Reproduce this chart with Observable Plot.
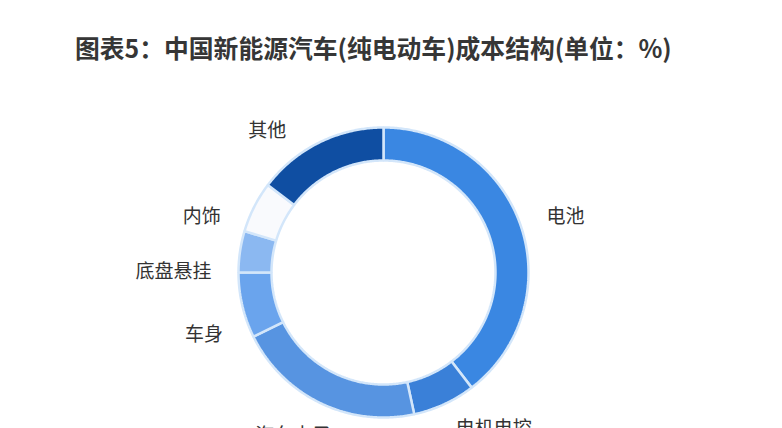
<!DOCTYPE html>
<html>
<head>
<meta charset="utf-8">
<script src="https://cdn.jsdelivr.net/npm/d3@7"></script>
<script src="https://cdn.jsdelivr.net/npm/@observablehq/plot@0.6"></script>
<style>
html, body { margin: 0; padding: 0; background: #ffffff; width: 782px; height: 428px; overflow: hidden; }
#title { position: absolute; left: 75px; top: 29px; font-family: "Noto Sans CJK SC", sans-serif; font-weight: bold; font-size: 24.8px; line-height: 36px; color: #363636; white-space: nowrap; }
#chart { position: absolute; left: 0; top: 80px; }
</style>
</head>
<body>
<div id="title">图表5：中国新能源汽车(纯电动车)成本结构(单位：%)</div>
<div id="chart"></div>
<script>
// Data (clockwise from 12 o'clock)
const categories = ["电池", "电机电控", "汽车电子", "车身", "底盘悬挂", "内饰", "其他"];
const shares = [39.6, 7.0, 21.1, 7.3, 4.6, 5.7, 14.7];
const sliceColors = ["#3a87e2", "#3a80d8", "#5794e1", "#6aa4ed", "#8bb8f1", "#f9fafd", "#0f4ea2"];

// Layout
const W = 782, H = 348;
const CX = 383, CY = 192, RPX = 145;   // centre and outer radius in pixels
const INNER = 112 / 145;               // inner radius relative to outer
const LABEL_R = 172 / 145;             // label anchor radius
const LEFT_SHIFT = -8 * Math.PI / 180; // labels on the left sit slightly lower

const rows = categories.map((name, i) => ({name, value: shares[i]}));
const arcs = d3.pie().sort(null).value(d => d.value)(rows);

// ring polygons (unit coordinates, y up)
const pts = [];
for (const a of arcs) {
  const n = Math.max(4, Math.ceil((a.endAngle - a.startAngle) / 0.01));
  for (let k = 0; k <= n; k++) {
    const t = a.startAngle + (a.endAngle - a.startAngle) * k / n;
    pts.push({name: a.data.name, x: Math.sin(t), y: Math.cos(t)});
  }
  for (let k = n; k >= 0; k--) {
    const t = a.startAngle + (a.endAngle - a.startAngle) * k / n;
    pts.push({name: a.data.name, x: INNER * Math.sin(t), y: INNER * Math.cos(t)});
  }
}

const labels = arcs.map(a => {
  let m = (a.startAngle + a.endAngle) / 2;
  const left = Math.sin(m) < 0;
  if (left) m += LEFT_SHIFT;
  return {
    name: a.data.name,
    x: LABEL_R * Math.sin(m),
    y: LABEL_R * Math.cos(m),
    anchor: left ? "end" : "start"
  };
});

const font = '"Noto Sans CJK SC", sans-serif';

const chart = Plot.plot({
  width: W,
  height: H,
  margin: 0,
  style: {background: "transparent", overflow: "visible"},
  x: {domain: [-CX / RPX, (W - CX) / RPX], range: [0, W], axis: null},
  y: {domain: [-(H - CY) / RPX, CY / RPX], range: [H, 0], axis: null},
  color: {type: "ordinal", domain: categories, range: sliceColors},
  marks: [
    Plot.line(pts, {
      x: "x", y: "y", z: "name", fill: "name",
      stroke: "#d3e6fa", strokeWidth: 2.5, curve: "linear-closed", strokeLinejoin: "miter"
    }),
    Plot.text(labels.filter(d => d.anchor === "end"), {
      x: "x", y: "y", text: "name", textAnchor: "end", lineAnchor: "middle",
      fontSize: 19, fill: "#333333", fontFamily: font
    }),
    Plot.text(labels.filter(d => d.anchor === "start"), {
      x: "x", y: "y", text: "name", textAnchor: "start", lineAnchor: "middle",
      fontSize: 19, fill: "#333333", fontFamily: font
    })
  ]
});
document.getElementById("chart").appendChild(chart);
</script>
</body>
</html>
